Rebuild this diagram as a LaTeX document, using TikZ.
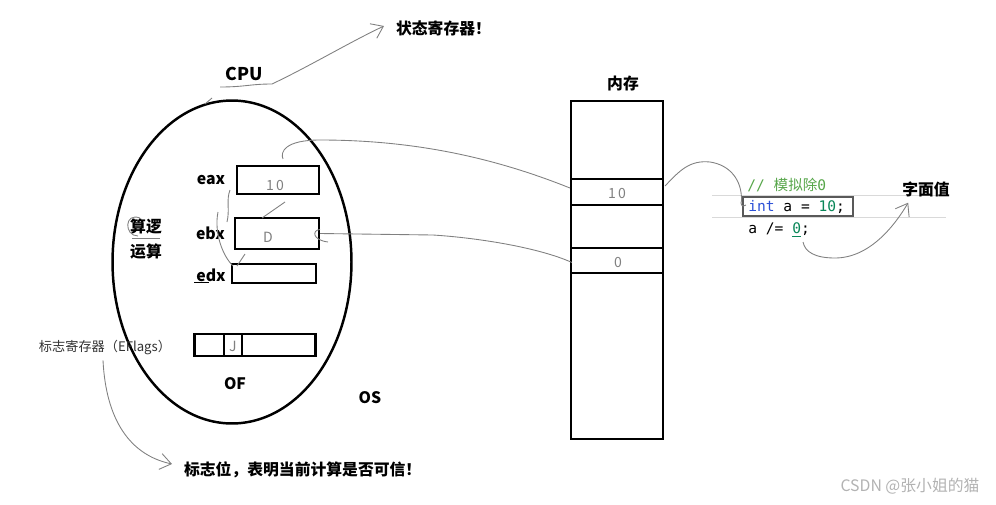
\documentclass[tikz,border=0pt]{standalone}
\usepackage{fontspec}
\setmainfont{Noto Sans CJK SC}
\newfontfamily\codefont{DejaVu Sans Mono}
\usetikzlibrary{positioning,arrows.meta,shapes.geometric,calc}

\definecolor{cmtgreen}{HTML}{57A64A}
\definecolor{kwblue}{HTML}{2B50D6}
\definecolor{numteal}{HTML}{098658}

\begin{document}
\begin{tikzpicture}[x=0.02cm, y=-0.02cm,
  lbl/.style={font=\bfseries\fontsize{9}{11}\selectfont, inner sep=1pt},
  reg/.style={draw, line width=1.2pt, inner sep=0pt},
  cell/.style={draw, line width=1.2pt, minimum width=1.84cm, inner sep=0pt},
  hand/.style={gray, line width=0.5pt},
  handarr/.style={hand, -{Straight Barb[length=2.2mm, width=3.2mm]}},
  ink/.style={font=\fontsize{8}{9}\selectfont, text=gray, inner sep=0pt},
  code/.style={font=\codefont\fontsize{8.3}{10}\selectfont, anchor=west, inner sep=0pt},
]
\useasboundingbox (0,0) rectangle (996,504);

% CPU
\node[draw, ellipse, line width=1.4pt, minimum width=4.78cm, minimum height=6.46cm] (cpu) at (232,262) {};
\node[lbl, font=\bfseries\fontsize{10}{12}\selectfont] (cpulbl) at (244,74) {CPU};
\node[lbl, anchor=west] (state) at (394,28) {状态寄存器！};
\coordinate (cpuend) at (220,87);
\draw[handarr] (cpuend) .. controls (245,87) and (250,84) .. (272,84)
  .. controls (310,66) and (350,42) .. ($(state.west)+(-10,-2)$);
\draw[hand] (205,104) -- (212,98);

% registers
\node[reg, minimum width=1.64cm, minimum height=0.56cm] (eax) at (278,180) {};
\node[reg, minimum width=1.68cm, minimum height=0.62cm] (ebx) at (277,233.5) {};
\node[reg, minimum width=1.68cm, minimum height=0.38cm] (edx) at (274,273.5) {};
\node[lbl, left=5pt of eax] (eaxlbl) {eax};
\node[lbl, left=4pt of ebx] (ebxlbl) {ebx};
\node[lbl, anchor=center] (edxlbl) at (211,275) {edx};
\draw[line width=0.8pt] ($(edxlbl.south west)+(0,-1)$) -- ($(edxlbl.south)+(-2,-1)$);
\node[ink] (eaxval) at (275,185) {1\,0};
\node[ink] (ebxval) at (268,237) {D};
\node[lbl, align=center, font=\bfseries\fontsize{9}{14}\selectfont] (alu) at (146,239) {算逻\\运算};

% handwritten marks near the registers
\draw[hand] (285,202) -- (262,218);
\draw[hand] (230,190) .. controls (226,200) and (230,210) .. (227,222);
\draw[hand] (218,212) .. controls (214,232) and (222,255) .. (233,266);
\draw[hand] (245,254) -- (237,266);
\draw[hand] (140,218) .. controls (124,212) and (124,236) .. (138,236);
\draw[hand] (132,238) -- (160,238);

% flag register
\node[reg, minimum width=2.42cm, minimum height=0.44cm] (eflags) at (255,345) {};
\draw[line width=1.2pt] (224,334) -- (224,356);
\draw[line width=1.2pt] (242,334) -- (242,356);
\node[ink] (ofval) at (233,346) {J};
\node[font=\fontsize{7.5}{9}\selectfont, text=black!80, inner sep=1pt] (eflagslbl) at (105,347) {标志寄存器（EFlags）};
\node[lbl] (oflbl) at (235,384) {OF};
\node[lbl] (oslbl) at (370,398) {OS};
\node[lbl, anchor=west] (flagbit) at (182,470) {标志位，表明当前计算是否可信！};
\draw[handarr] ($(eflagslbl.south)+(-2,4)$) .. controls (106,420) and (130,455) .. ($(flagbit.west)+(-10,-6)$);

% memory
\node[lbl] (memlbl) at (623,83) {内存};
\node[draw, line width=1.2pt, minimum width=1.84cm, minimum height=6.76cm, inner sep=0pt] (mem) at (617,270) {};
\node[cell, minimum height=0.52cm] (m10) at (617,192) {};
\node[cell, minimum height=0.5cm] (m0) at (617,260.5) {};
\node[ink] (m10val) at (617,193) {1\,0};
\node[ink] (m0val) at (618,262) {0};

% eax / ebx  <->  memory
\draw[hand] ($(eax.north)+(5,-6)$) .. controls (280,152) and (285,140) .. (320,140)
  .. controls (420,140) and (500,160) .. ($(m10.west)+(0,-4)$);
\draw[hand] ($(ebx.east)+(0,-4)$) .. controls (312,230) and (312,240) .. (328,242);
\draw[hand] (ebx.east) -- (433,235) .. controls (480,238) and (540,248) .. ($(m0.west)+(2,2)$);

% code
\draw[gray!30, line width=0.4pt] (712,195) -- (946,195);
\draw[gray!30, line width=0.4pt] (712,217) -- (946,217);
\node[code] (cmt) at (747,185) {\textcolor{cmtgreen}{// {\rmfamily 模拟除}0}};
\node[code] (line1) at (748,207) {\textcolor{kwblue}{int} a = \textcolor{numteal}{10};};
\node[draw, gray!70!black, line width=0.6pt, inner sep=0pt, minimum width=2.2cm, minimum height=0.38cm] (line1box) at (798,206.5) {};
\node[code] (line2) at (748,230) {a /= \textcolor{numteal}{\underline{0}};};
\node[lbl] (literal) at (926,189) {字面值};

\draw[hand] ($(m10.east)+(1,-6)$) .. controls (680,170) and (690,160) .. (710,162)
  .. controls (730,165) and (742,180) .. ($(line1box.west)+(-1,-6)$)
  .. controls (740,204) and (742,208) .. (746,205);
\draw[handarr] (803,242) .. controls (805,252) and (815,258) .. (835,258)
  .. controls (870,258) and (895,225) .. ($(literal.south west)+(8,4)$);

% watermark
\node[font=\fontsize{9}{11}\selectfont, text=gray!60, inner sep=0pt] (wm) at (910,486) {CSDN @张小姐的猫};
\end{tikzpicture}
\end{document}
